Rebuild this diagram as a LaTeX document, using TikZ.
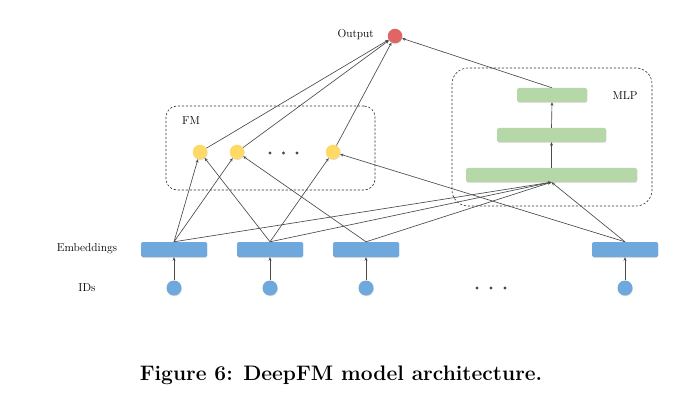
\documentclass[tikz,border=0pt]{standalone}
\usetikzlibrary{arrows.meta,shadows}
\definecolor{embblue}{HTML}{6FA8DC}
\definecolor{mlpgreen}{HTML}{B6D7A8}
\definecolor{fmyellow}{HTML}{FFD966}
\definecolor{outred}{HTML}{E06666}
\definecolor{linegray}{HTML}{4A4A4A}
\tikzset{
  conn/.style={draw=linegray, line width=0.65pt, -{Stealth[length=3.5pt,width=3pt]}},
  softshadow/.style={drop shadow={opacity=0.25, shadow xshift=0.4pt, shadow yshift=-0.8pt}},
  embbox/.style={rectangle, rounded corners=1.5pt, fill=embblue, minimum width=66pt, minimum height=15pt, inner sep=0pt, softshadow},
  bar/.style={rectangle, rounded corners=1.5pt, fill=mlpgreen, minimum height=14pt, inner sep=0pt, softshadow},
  idnode/.style={circle, fill=embblue, minimum size=15pt, inner sep=0pt, softshadow},
  fmnode/.style={circle, fill=fmyellow, minimum size=14.5pt, inner sep=0pt, softshadow},
  outnode/.style={circle, fill=outred, minimum size=14.5pt, inner sep=0pt, softshadow},
  dotnode/.style={circle, fill=linegray, minimum size=3.4pt, inner sep=0pt},
  group/.style={rectangle, draw=black!80, dashed, dash pattern=on 2.2pt off 1.8pt, line width=0.6pt},
  lbl/.style={font=\fontsize{11.5}{13}\selectfont, text=black, inner sep=0pt}
}
\begin{document}
\begin{tikzpicture}[x=1pt,y=-1pt]
\useasboundingbox (0,0) rectangle (690,406);
% groups
\node[group, rounded corners=11pt, minimum width=209pt, minimum height=84pt] (fmbox) at (270.5,148) {};
\node[group, rounded corners=16pt, minimum width=200pt, minimum height=138pt] (mlpbox) at (552,137) {};
\node[lbl] (fmlbl) at (191,121) {FM};
\node[lbl] (mlplbl) at (625,96) {MLP};
% output
\node[outnode] (out) at (395,36) {};
\node[lbl, anchor=east] (outlbl) at (374,35) {Output};
% FM nodes
\node[fmnode] (y1) at (200,152) {};
\node[fmnode] (y2) at (237,152) {};
\node[fmnode] (y3) at (333,152) {};
\node[dotnode] (d1) at (270,153) {};
\node[dotnode] (d2) at (283.5,153) {};
\node[dotnode] (d3) at (297,153) {};
% MLP bars
\node[bar, minimum width=70pt] (b3) at (552,95) {};
\node[bar, minimum width=109pt] (b2) at (551.5,135) {};
\node[bar, minimum width=171pt] (b1) at (551.5,175) {};
% embeddings
\node[embbox] (e1) at (174,249.5) {};
\node[embbox] (e2) at (270,249.5) {};
\node[embbox] (e3) at (366,249.5) {};
\node[embbox] (e4) at (625,249.5) {};
% ids
\node[idnode] (i1) at (174,288) {};
\node[idnode] (i2) at (270,288) {};
\node[idnode] (i3) at (366,288) {};
\node[idnode] (i4) at (625,288) {};
\node[dotnode] (bd1) at (477,288) {};
\node[dotnode] (bd2) at (491,288) {};
\node[dotnode] (bd3) at (505,288) {};
% labels
\node[lbl] (emblbl) at (87,249) {Embeddings};
\node[lbl] (idlbl) at (87,288) {IDs};
% connectors
\foreach \k in {1,2,3,4} { \draw[conn] (i\k.north) -- (e\k.south); }
\draw[conn] (e1.north) -- (y1);
\draw[conn] (e1.north) -- (y2);
\draw[conn] (e2.north) -- (y1);
\draw[conn] (e2.north) -- (y3);
\draw[conn] (e3.north) -- (y2);
\draw[conn] (e4.north) -- (y3);
\foreach \k in {1,2,3,4} { \draw[conn] (e\k.north) -- (b1.south); }
\draw[conn] (b1.north) -- (b2.south);
\draw[conn] (b2.north) -- (b3.south);
\draw[conn] (y1) -- (out);
\draw[conn] (y2) -- (out);
\draw[conn] (y3) -- (out);
\draw[conn] (b3.north) -- (out);
% caption
\node[font=\fontsize{21}{25}\selectfont\bfseries, inner sep=0pt] (cap) at (341,375) {Figure 6: DeepFM model architecture.};
\end{tikzpicture}
\end{document}
